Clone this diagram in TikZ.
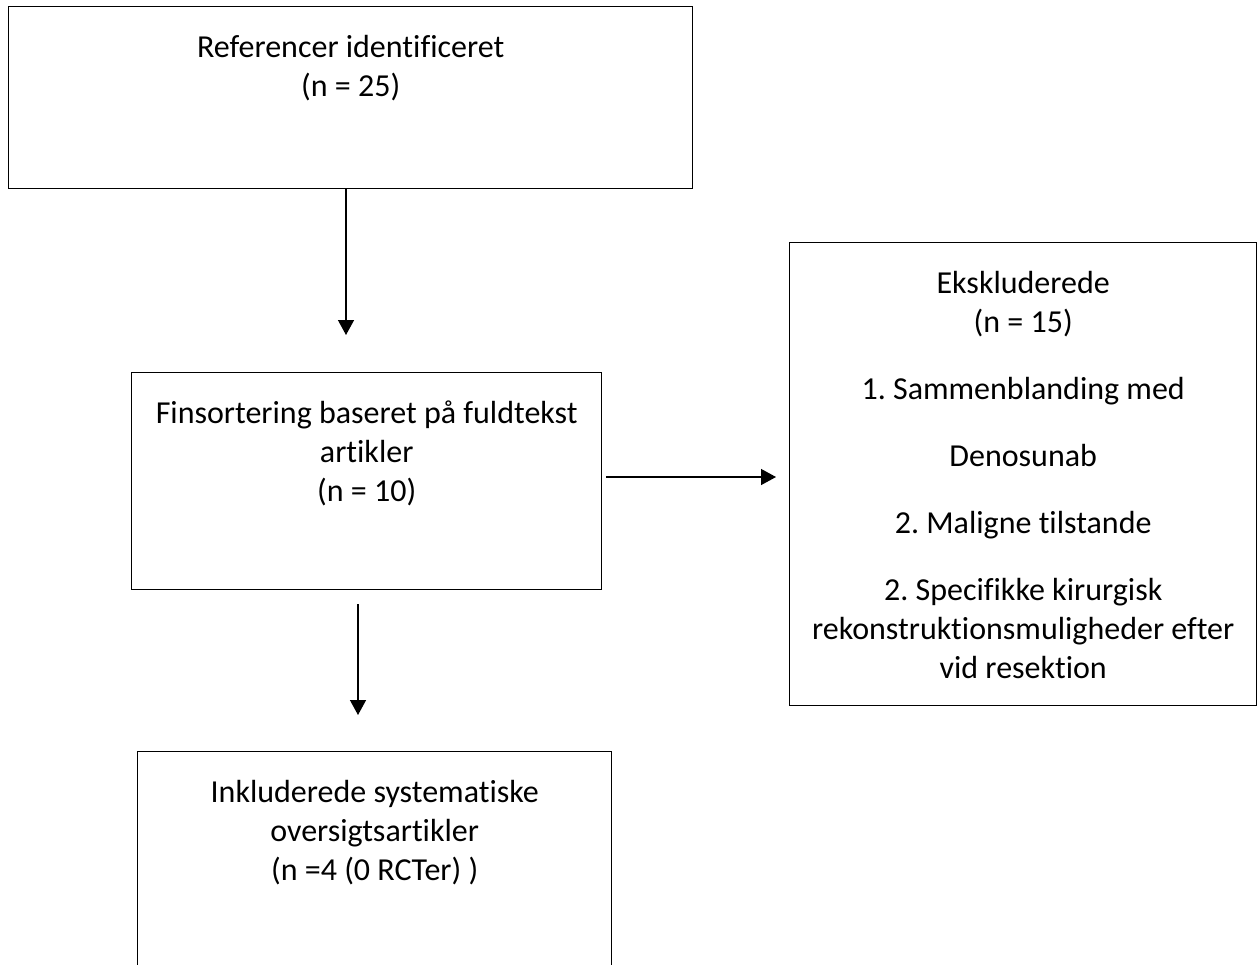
\documentclass[tikz,border=0pt]{standalone}
\usepackage{fontspec}
\setmainfont[Ligatures=NoCommon]{Carlito}
\frenchspacing
\usetikzlibrary{arrows.meta}
\begin{document}
\begin{tikzpicture}[x=1pt,y=-1pt,
  box/.style={draw=black,line width=1.4pt,inner sep=0pt,anchor=north west},
  txt/.style={align=center,inner sep=0pt,anchor=north,font=\fontsize{32}{39}\selectfont},
  arr/.style={line width=1.4pt,-{Triangle[width=16pt,length=15pt]}}]
\useasboundingbox (0,0) rectangle (1257,964);
\begin{scope}
\clip (0,0) rectangle (1257,964);
\node[box,minimum width=684pt,minimum height=182pt] (b1) at (8,6) {};
\node[box,minimum width=470pt,minimum height=217pt] (b2) at (131,372) {};
\node[box,minimum width=467pt,minimum height=463pt] (b3) at (789,242) {};
\node[box,minimum width=474pt,minimum height=260pt] (b4) at (137,751) {};
\end{scope}
\node[txt] (t1) at ([yshift=-29pt]b1.north) {Referencer identificeret\\(n = 25)};
\node[txt] (t2) at ([yshift=-29pt]b2.north) {Finsortering baseret på fuldtekst\\artikler\\(n = 10)};
\node[txt] (t3) at ([yshift=-29pt]b3.north) {Ekskluderede\\(n = 15)\\[28pt]1. Sammenblanding med\\[28pt]Denosunab\\[28pt]2. Maligne tilstande\\[28pt]2. Specifikke kirurgisk\\rekonstruktionsmuligheder efter\\vid resektion};
\node[txt] (t4) at ([yshift=-29pt]b4.north) {Inkluderede systematiske\\oversigtsartikler\\(n =4 (0 RCTer) )};
\coordinate (a1) at (346,335);
\coordinate (a2s) at (606,477);
\coordinate (a2e) at (776,477);
\coordinate (a3s) at (358,604);
\coordinate (a3e) at (358,715);
\draw[arr] (b1.south -| a1) -- (a1);
\draw[arr] (a2s) -- (a2e);
\draw[arr] (a3s) -- (a3e);
\end{tikzpicture}
\end{document}
